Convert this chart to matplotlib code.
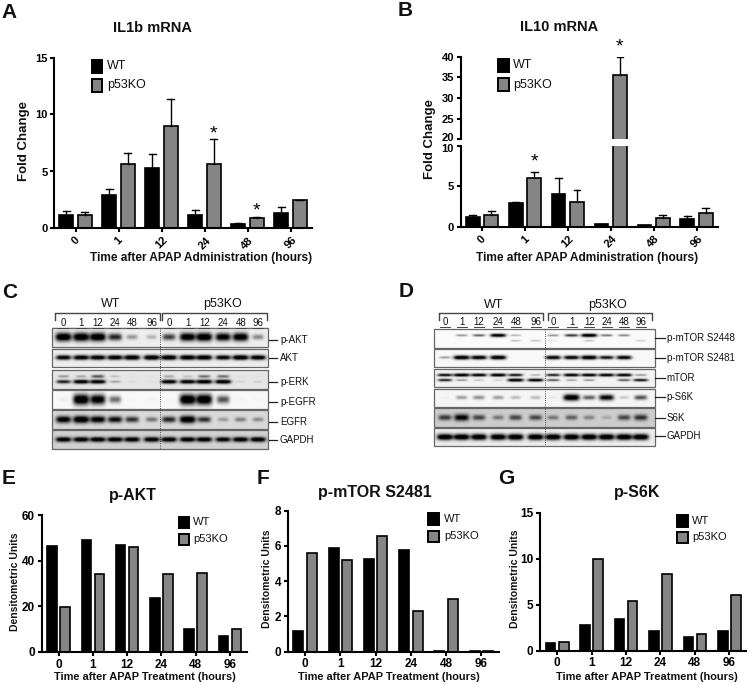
import numpy as np
import matplotlib
matplotlib.use('Agg')
import matplotlib.pyplot as plt
from matplotlib.patches import Rectangle
from matplotlib.transforms import ScaledTranslation

plt.rcParams['font.family'] = ['Liberation Sans', 'DejaVu Sans']

W, H = 747, 684
horas = ['0', '1', '12', '24', '48', '96']

# panel A
il1b_wt = [1.2, 2.9, 5.35, 1.15, 0.4, 1.4]
il1b_wt_top = [1.55, 3.5, 6.55, 1.6, 0.45, 1.9]
il1b_ko = [1.15, 5.7, 9.0, 5.7, 0.95, 2.5]
il1b_ko_top = [1.45, 6.6, 11.4, 7.85, 1.03, 2.5]

# panel B
il10_wt = [1.25, 2.95, 4.1, 0.35, 0.3, 1.05]
il10_wt_top = [1.55, 3.05, 6.1, 0.36, 0.31, 1.4]
il10_ko = [1.45, 6.05, 3.15, 35.5, 1.15, 1.75]
il10_ko_top = [1.95, 6.8, 4.6, 39.9, 1.55, 2.4]

# panels E, F, G
akt_wt = [46.5, 49, 47, 23.5, 10, 7]
akt_ko = [19.5, 34, 46, 34.3, 34.5, 10]
mtor_wt = [1.15, 5.9, 5.25, 5.75, 0.03, 0.03]
mtor_ko = [5.6, 5.2, 6.55, 2.3, 3.0, 0.03]
s6k_wt = [0.8, 2.8, 3.5, 2.1, 1.5, 2.1]
s6k_ko = [0.95, 10, 5.4, 8.3, 1.8, 6.1]

# blots: band strength per lane, first upper band then lower band
c_names = ['p-AKT', 'AKT', 'p-ERK', 'p-EGFR', 'EGFR', 'GAPDH']
c_upper = [[1, 1, 1, .7, .3, .2, .6, .95, 1, .9, .95, .35],
           [.9, .95, .95, .95, 1, 1, 1, 1, 1, .9, 1, .95],
           [.3, .25, .55, .15, .03, .02, .25, .15, .45, .45, .03, .03],
           [.04, 1, .9, .45, .01, .01, .01, 1, 1, .55, .01, .01],
           [.9, 1, .9, .8, .65, .4, .7, 1, .65, .25, .35, .3],
           [.95, .95, .95, .95, .95, .95, .95, .95, .95, .9, .95, .95]]
c_lower = [None, None,
           [.75, .95, .95, .25, .05, .03, .95, .95, 1, 1, .08, .1],
           None, None, None]
d_names = ['p-mTOR S2448', 'p-mTOR S2481', 'mTOR', 'p-S6K', 'S6K', 'GAPDH']
d_upper = [[0, .35, .5, .95, .25, .01, .35, .65, 1, .45, .4, .01],
           [.3, 1, .95, 1, 0, 0, .9, .9, 1, .8, .9, 0],
           [.85, 1, .95, 1, .8, .25, .75, .95, .95, .95, .95, .35],
           [.03, .3, .35, .3, .2, .2, .04, 1, .5, .85, .15, .55],
           [.6, .85, .55, .35, .55, .55, .35, .45, .3, .15, .55, .65],
           [1, 1, 1, 1, 1, 1, 1, 1, 1, 1, 1, 1]]
d_lower = [[0, 0, 0, 0, .2, .2, .08, .01, .2, 0, .02, .15],
           None,
           [.75, .35, .2, .15, 1, .95, .55, .3, .35, 0, .55, .8],
           None, None, None]
c_fondo = [.93, .93, .9, .97, .85, .82]
d_fondo = [.98, .97, .95, .96, .8, .93]

fig = plt.figure(figsize=(W / 100, H / 100), dpi=100)


def ejes(x0, x1, ytop, ybot):
    ax = fig.add_axes([x0 / W, 1 - ybot / H, (x1 - x0) / W, (ybot - ytop) / H])
    ax.patch.set_alpha(0)
    for s in ['top', 'right']:
        ax.spines[s].set_visible(False)
    for s in ['left', 'bottom']:
        ax.spines[s].set_linewidth(1.5)
    ax.tick_params(width=1.5, length=3.2, pad=1.5)
    ax.set_xlim(-0.5, 5.5)
    ax.set_xticks(range(6))
    return ax


def barras(ax, wt, ko, ancho, dx, wt_top=None, ko_top=None):
    x = np.arange(6)
    ax.bar(x - dx, wt, ancho, color='black', edgecolor='black', linewidth=1.2)
    ax.bar(x + dx, ko, ancho, color='#858585', edgecolor='black', linewidth=1.2)
    if wt_top is not None:
        for xi, a, b in zip(x - dx, wt, wt_top):
            ax.plot([xi, xi], [a, b], color='black', lw=1)
            ax.plot([xi - ancho / 4, xi + ancho / 4], [b, b], color='black', lw=1)
        for xi, a, b in zip(x + dx, ko, ko_top):
            ax.plot([xi, xi], [a, b], color='black', lw=1)
            ax.plot([xi - ancho / 4, xi + ancho / 4], [b, b], color='black', lw=1)


def etiquetas(ax, rotar=False, size=8):
    ax.set_xticklabels(horas, fontweight='bold', fontsize=size)
    if rotar:
        for t in ax.get_xticklabels():
            t.set_rotation(45)
            t.set_ha('center')
    for t in ax.get_yticklabels():
        t.set_fontweight('bold')
        t.set_fontsize(size)


def estrella(ax, x, y, off=10):
    ax.annotate('*', (x, y), xytext=(0, off), textcoords='offset pixels', ha='center',
                va='center', fontsize=14, annotation_clip=False)


# A
axA = ejes(54, 312, 57.5, 228.5)
barras(axA, il1b_wt, il1b_ko, 0.32, 0.215, il1b_wt_top, il1b_ko_top)
axA.set_ylim(0, 15)
axA.set_yticks([0, 5, 10, 15])
etiquetas(axA, True)
estrella(axA, 3.215, il1b_ko_top[3], 5.5)
estrella(axA, 4.215, il1b_ko_top[4], 5.5)

# B, eje cortado
axB = ejes(460.5, 718, 145.7, 227.3)
barras(axB, il10_wt, il10_ko, 0.32, 0.215, il10_wt_top, il10_ko_top)
axB.set_ylim(0, 10)
axB.set_yticks([0, 5, 10])
etiquetas(axB, True)
estrella(axB, 1.215, il10_ko_top[1])
axB2 = ejes(460.5, 718, 56.7, 139.3)
barras(axB2, il10_wt, il10_ko, 0.32, 0.215, il10_wt_top, il10_ko_top)
axB2.set_ylim(20, 40)
axB2.set_yticks([20, 25, 30, 35, 40])
axB2.spines['bottom'].set_visible(False)
axB2.tick_params(axis='x', bottom=False, labelbottom=False)
for t in axB2.get_yticklabels():
    t.set_fontweight('bold')
    t.set_fontsize(8)
estrella(axB2, 3.215, il10_ko_top[3])
# separar un poco el 20 y el 10 para que no se pisen
l20 = axB2.get_yticklabels()[0]
l20.set_transform(l20.get_transform() + ScaledTranslation(0, 1.5 / 72, fig.dpi_scale_trans))
l10 = axB.get_yticklabels()[2]
l10.set_transform(l10.get_transform() + ScaledTranslation(0, -1.5 / 72, fig.dpi_scale_trans))

# E F G
axE = ejes(41.5, 247, 515, 652)
barras(axE, akt_wt, akt_ko, 0.28, 0.19)
axE.set_ylim(0, 60)
axE.set_yticks([0, 20, 40, 60])
etiquetas(axE, size=8.5)
axF = ejes(287.5, 499, 510.7, 651.7)
barras(axF, mtor_wt, mtor_ko, 0.28, 0.19)
axF.set_ylim(0, 8)
axF.set_yticks([0, 2, 4, 6, 8])
etiquetas(axF, size=8.5)
axG = ejes(540, 746.5, 512.7, 650.7)
barras(axG, s6k_wt, s6k_ko, 0.28, 0.19)
axG.set_ylim(0, 15)
axG.set_yticks([0, 5, 10, 15])
etiquetas(axG, size=8.5)

# capa en pixeles para textos y blots
capa = fig.add_axes([0, 0, 1, 1], zorder=10)
capa.patch.set_alpha(0)
capa.axis('off')


def txt(x, y, s, size=8, bold=False, ha='center', rot=0):
    capa.text(x, y, s, fontsize=size, fontweight='bold' if bold else 'normal', ha=ha,
              va='center', rotation=rot, color='#111111')


def leyenda(xbox, xfin, y1, y2, yalto, xtxt, size):
    for y, col, s in [(y1, 'black', 'WT'), (y2, '#858585', 'p53KO')]:
        capa.add_patch(Rectangle((xbox, y), xfin - xbox, yalto, fc=col, ec='black', lw=1.4))
        txt(xtxt, y + yalto / 2, s, size=size, ha='left')


def tira(box, lanes, upper, lower, fondo, yu, yl, thick):
    x0, x1, y0, y1 = box
    xx = np.linspace(x0, x1, int((x1 - x0) * 2))
    yy = np.linspace(y0, y1, int((y1 - y0) * 2))
    X, Y = np.meshgrid(xx, yy)
    oscuro = np.zeros(X.shape)
    for bandas, fy in [(upper, yu), (lower, yl)]:
        if bandas is None:
            continue
        yc = y0 + fy * (y1 - y0)
        for xc, b in zip(lanes, bandas):
            sx = 4.5 + 3.5 * b
            sy = thick * (0.45 + 0.65 * b)
            oscuro += b * 1.25 * np.exp(-((X - xc) / sx) ** 4 - ((Y - yc) / sy) ** 2)
    img = fondo * (1 - np.clip(oscuro, 0, 1))
    capa.imshow(img, extent=(x0, x1, y1, y0), aspect='auto', cmap='gray', vmin=0, vmax=1,
                interpolation='bilinear')
    capa.add_patch(Rectangle((x0, y0), x1 - x0, y1 - y0, fc='none', ec='#666666', lw=0.9))


def panel_blot(xs, filas, lanes, nombres, upper, lower, fondos, y_nombres, xdiv, xline, xtxt,
               yb, ylab, ywt, br1, br2, xwt, xko, grosor):
    for i, (y0, y1) in enumerate(filas):
        yu = 0.5
        yl = 0.5
        if lower[i] is not None:
            yu, yl = 0.33, 0.62
        tira((xs[0], xs[1], y0, y1), lanes, upper[i], lower[i], fondos[i], yu, yl, grosor[i])
        capa.plot(xline, [y_nombres[i], y_nombres[i]], color='#222222', lw=0.9)
        txt(xtxt, y_nombres[i], nombres[i], size=7, ha='left')
    capa.plot([xdiv, xdiv], [filas[0][0], filas[-1][1]], color='#222222', lw=0.6, ls=':')
    for br in (br1, br2):
        capa.plot([br[0], br[0], br[1], br[1]], [yb + 7, yb, yb, yb + 7], color='#444444', lw=1)
    txt(xwt, ywt, 'WT', size=9)
    txt(xko, ywt, 'p53KO', size=9)
    for xc, s in zip(lanes, horas + horas):
        txt(xc, ylab, s, size=7)
        capa.plot([xc - 5, xc + 5], [ylab + 5, ylab + 5], color='#444444', lw=0.7)


c_lanes = [63.3, 81, 97.7, 115, 132, 151.7, 169, 187.7, 204.3, 223.3, 240.7, 258.3]
d_lanes = [445, 461.7, 479, 498.3, 515.7, 535.7, 553.3, 571.7, 589.3, 606.7, 624.3, 641]
panel_blot((52, 268), [(328, 347.3), (349, 367.3), (370, 389), (390.3, 408.7), (410, 429), (430.3, 448.7)],
           c_lanes, c_names, c_upper, c_lower, c_fondo, [339.7, 358, 382.3, 401.7, 421.7, 440], 160,
           [269, 277], 280, 313.3, 323.3, 304.3, (55, 160), (162, 266.7), 110.7, 222.7,
           [3.8, 2.2, 1.9, 4.8, 3.4, 2.3])
panel_blot((434.3, 655), [(329.3, 347.7), (349, 367.3), (369.3, 387.3), (389, 407.3), (408.3, 427), (428.3, 446)],
           d_lanes, d_names, d_upper, d_lower, d_fondo, [338.3, 357.7, 378.3, 396.7, 417.7, 435.7], 545.3,
           [655, 665], 666.7, 313.3, 322.3, 305, (439, 543.3), (547.7, 652.3), 493.3, 607.7,
           [1.5, 1.8, 1.4, 2.8, 3.4, 2.8])

# letras de panel
for x, y, s in [(1.5, 12.7, 'A'), (398, 10, 'B'), (2, 292, 'C'), (399, 291.7, 'D'),
                (2, 478, 'E'), (257, 478, 'F'), (498, 478, 'G')]:
    txt(x, y, s, size=15, bold=True, ha='left')

# titulos
txt(152.7, 27.7, 'IL1b mRNA', size=10.5, bold=True)
txt(559, 27, 'IL10 mRNA', size=10.5, bold=True)
txt(132.7, 495.7, 'p-AKT', size=11.5, bold=True)
txt(375, 492.3, 'p-mTOR S2481', size=11.5, bold=True)
txt(637.3, 492.3, 'p-S6K', size=11.5, bold=True)

# ejes, nombres
txt(24, 141, 'Fold Change', size=9.5, bold=True, rot=90)
txt(430, 139, 'Fold Change', size=9.5, bold=True, rot=90)
txt(200.7, 258.3, 'Time after APAP Administration (hours)', size=8.6, bold=True)
txt(586.7, 257.7, 'Time after APAP Administration (hours)', size=8.6, bold=True)
txt(15, 581.7, 'Densitometric Units', size=7.5, bold=True, rot=90)
txt(267.3, 579, 'Densitometric Units', size=7.5, bold=True, rot=90)
txt(515, 579, 'Densitometric Units', size=7.5, bold=True, rot=90)
txt(145, 676.7, 'Time after APAP Treatment (hours)', size=7.9, bold=True)
txt(389, 676.7, 'Time after APAP Treatment (hours)', size=7.9, bold=True)
txt(647.3, 677.3, 'Time after APAP Treatment (hours)', size=7.9, bold=True)

# leyendas
leyenda(91.7, 102.3, 60, 79, 12.5, 106.7, 9)
leyenda(498.3, 509.3, 59, 78.3, 12.5, 513.3, 9)
leyenda(178.7, 189.3, 517, 534, 10.7, 193.3, 8)
leyenda(428.3, 439.3, 513, 530.7, 11.5, 444, 8)
leyenda(677.3, 688.3, 515, 531.7, 11.5, 692.3, 8)

capa.set_xlim(0, W)
capa.set_ylim(H, 0)

fig.savefig('out.png', dpi=100)
